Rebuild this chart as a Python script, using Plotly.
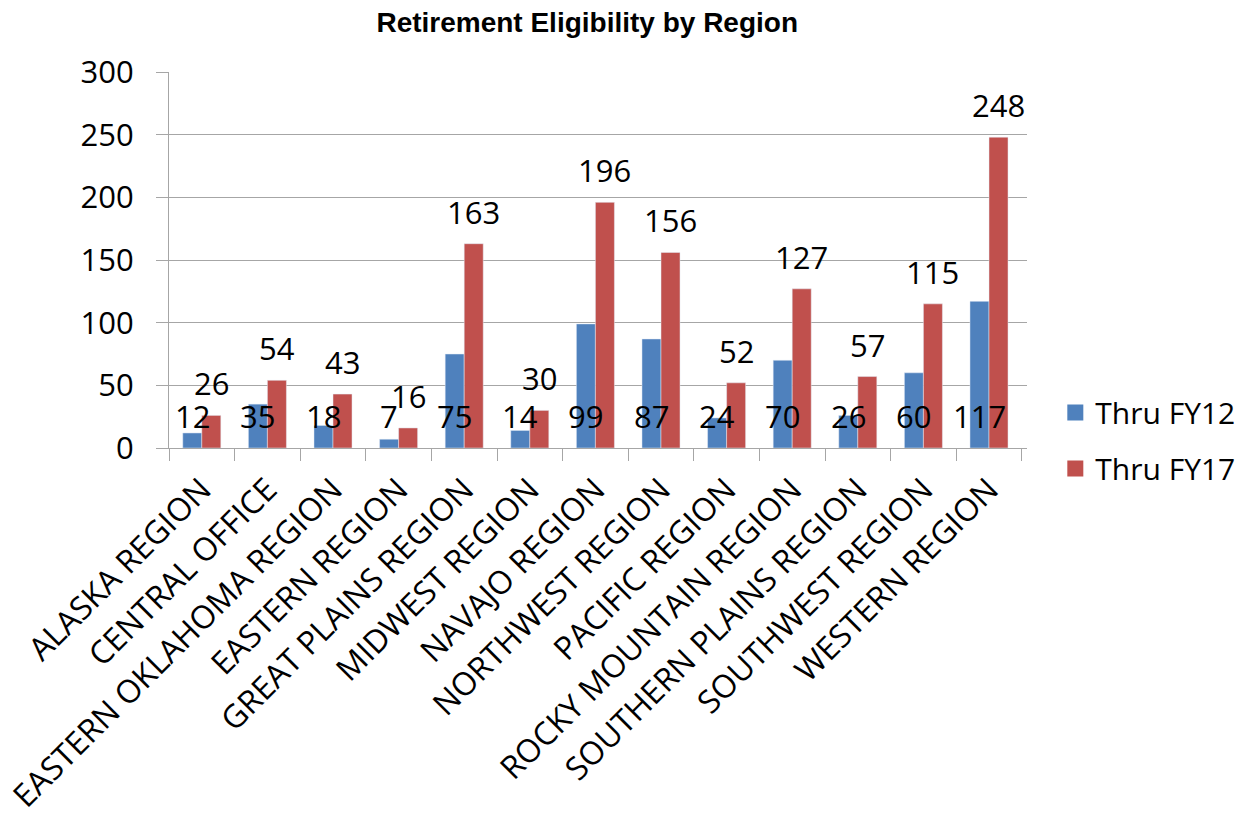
import plotly.graph_objects as go

categories = ["ALASKA REGION", "CENTRAL OFFICE", "EASTERN OKLAHOMA REGION", "EASTERN REGION",
              "GREAT PLAINS REGION", "MIDWEST REGION", "NAVAJO REGION", "NORTHWEST REGION",
              "PACIFIC REGION", "ROCKY MOUNTAIN REGION", "SOUTHERN PLAINS REGION",
              "SOUTHWEST REGION", "WESTERN REGION"]
fy12 = [12, 35, 18, 7, 75, 14, 99, 87, 24, 70, 26, 60, 117]
fy17 = [26, 54, 43, 16, 163, 30, 196, 156, 52, 127, 57, 115, 248]
series_names = ["Thru FY12", "Thru FY17"]
y_ticks = [0, 50, 100, 150, 200, 250, 300]

BLUE = "#4F81BD"
RED = "#C0504D"
GRID = "#A6A6A6"
FONT = "Open Sans"

fig = go.Figure()
fig.add_trace(go.Bar(x=categories, y=fy12, name=series_names[0], marker_color=BLUE,
                     showlegend=False))
fig.add_trace(go.Bar(x=categories, y=fy17, name=series_names[1], marker_color=RED,
                     showlegend=False))
# legend entries with square swatches
for nm, col, grp in [(series_names[0], BLUE, "a"), (series_names[1], RED, "b")]:
    fig.add_trace(go.Scatter(x=[None], y=[None], mode="markers", name=nm,
                             marker=dict(symbol="square", size=16, color=col),
                             legendgroup=grp, hoverinfo="skip"))

annotations = []
for c, v in zip(categories, fy12):
    annotations.append(dict(x=c, y=0, xref="x", yref="y", text=str(v), showarrow=False,
                            xshift=-9.5, yanchor="bottom", yshift=9,
                            font=dict(family=FONT, size=31, color="black")))
for c, v in zip(categories, fy17):
    annotations.append(dict(x=c, y=v, xref="x", yref="y", text=str(v), showarrow=False,
                            xshift=9.5, yanchor="bottom", yshift=9,
                            font=dict(family=FONT, size=31, color="black")))

fig.update_layout(
    width=1247, height=806,
    margin=dict(l=161, r=228, t=64, b=366),
    paper_bgcolor="white", plot_bgcolor="white",
    barmode="group", bargap=0.42, bargroupgap=0,
    title=dict(text="<b>Retirement Eligibility by Region</b>", x=0.4645, xanchor="center",
               y=0.9825, yanchor="middle",
               font=dict(family="Liberation Sans, Arial", size=28, color="black")),
    showlegend=True,
    legend=dict(x=1.033, xanchor="left", y=0.02, yanchor="middle",
                font=dict(family=FONT, size=30, color="black"),
                traceorder="grouped", tracegroupgap=14, bgcolor="rgba(0,0,0,0)"),
    annotations=annotations,
)
fig.update_xaxes(type="category", tickangle=-45, tickson="boundaries", automargin=False,
                 ticks="outside", ticklen=12, tickcolor=GRID, ticklabelstandoff=9,
                 showline=True, linecolor=GRID, linewidth=1,
                 tickfont=dict(family=FONT, size=32, color="black"),
                 showgrid=False)
fig.update_yaxes(range=[0, 300], tickvals=y_ticks, ticks="outside", ticklen=12,
                 automargin=False,
                 tickcolor=GRID, showline=True, linecolor=GRID, linewidth=1,
                 ticklabelstandoff=16,
                 showgrid=True, gridcolor=GRID, gridwidth=1, zeroline=False,
                 tickfont=dict(family=FONT, size=31, color="black"))

fig.write_html("out.html")
